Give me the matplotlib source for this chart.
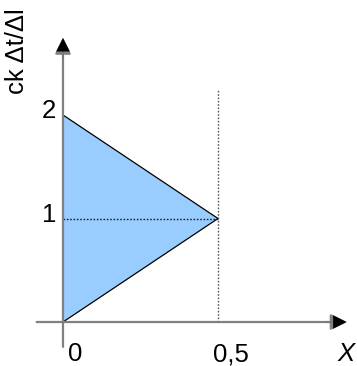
import matplotlib.pyplot as plt

# triangle vertices (x, ck*dt/dl)
tri_x = [0, 0.5, 0]
tri_y = [0, 1, 2]

x_ticks = [0, 0.5]
x_labels = ['0', '0,5']
x_label_pos = [0.017, 0.484]
y_ticks = [1, 2]
y_labels = ['1', '2']

plt.rcParams['font.family'] = ['Liberation Sans', 'DejaVu Sans']
fs = 18.5

fig = plt.figure(figsize=(3.57, 3.66), dpi=100)
ax = fig.add_axes([0, 0, 1, 1])
ax.set_xlim(-0.2032, 0.9484)
ax.set_ylim(-0.425, 3.111)
ax.axis('off')

ax.fill(tri_x, tri_y, facecolor='#99ccff', edgecolor='black', linewidth=0.9, zorder=2)

# dotted guides
ax.plot([0, 0.5], [1, 1], color='#222222', linestyle=(0, (1.2, 1.2)), linewidth=1, zorder=3)
ax.plot([0.5, 0.5], [0, 2.24], color='#555555', linestyle=(0, (1.2, 1.2)), linewidth=1, zorder=3)

# axes with arrow heads
gray = '#808080'
ax.annotate('', xy=(0.915, 0), xytext=(-0.085, 0),
            arrowprops=dict(arrowstyle='-|>', color=gray, lw=1.6,
                            mutation_scale=24, shrinkA=0, shrinkB=0), zorder=4)
ax.annotate('', xy=(0, 2.745), xytext=(0, -0.24),
            arrowprops=dict(arrowstyle='-|>', color=gray, lw=1.6,
                            mutation_scale=24, shrinkA=0, shrinkB=0), zorder=4)
# arrow heads drawn black on top
ax.annotate('', xy=(0.915, 0), xytext=(0.85, 0),
            arrowprops=dict(arrowstyle='-|>', color='black', lw=0.1,
                            mutation_scale=24, shrinkA=0, shrinkB=0), zorder=5)
ax.annotate('', xy=(0, 2.745), xytext=(0, 2.55),
            arrowprops=dict(arrowstyle='-|>', color='black', lw=0.1,
                            mutation_scale=24, shrinkA=0, shrinkB=0), zorder=5)

for xv, lab in zip(x_label_pos, x_labels):
    ax.text(xv, -0.38, lab, fontsize=fs, ha='left', va='baseline')
for yv, lab in zip(y_ticks, y_labels):
    ax.text(-0.068, yv - 0.03, lab, fontsize=fs, ha='left', va='baseline')

ax.text(0.884, -0.38, 'X', fontsize=fs, style='italic', ha='left', va='baseline')
ax.text(-0.148, 2.618, 'ck Δt/Δl', fontsize=fs, rotation=90, ha='center', va='center')

fig.savefig('out.png', dpi=100)
